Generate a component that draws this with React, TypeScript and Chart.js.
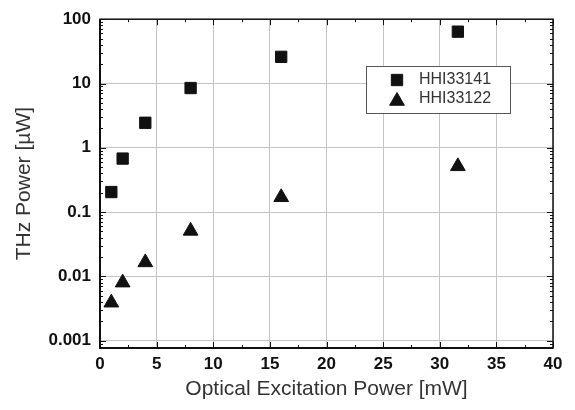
import React, { useEffect, useRef } from "react";
import { Chart, registerables } from "chart.js";
import { drawPoint } from "chart.js/helpers";

Chart.register(...registerables);

// ---- data ----
const EXCITATION_MW = [1, 2, 4, 8, 16, 31.6];
const HHI33141_UW = [0.205, 0.68, 2.45, 8.5, 26, 64];
const HHI33122_UW = [0.0039, 0.008, 0.0165, 0.051, 0.17, 0.515];
const SERIES_LABELS = ["HHI33141", "HHI33122"];
const Y_TICKS = [0.001, 0.01, 0.1, 1, 10, 100];
const Y_TICK_LABELS = ["0.001", "0.01", "0.1", "1", "10", "100"];
const X_TICK_STEP = 5;
const X_MINOR_STEP = 2.5;
const X_MIN = 0;
const X_MAX = 40;
const Y_MIN = 0.00077;
const Y_MAX = 100;
const X_TITLE = "Optical Excitation Power [mW]";
const Y_TITLE = "THz Power [\u00B5W]";

const FONT = "'Liberation Sans', Arial, Helvetica, sans-serif";
const INK = "#111111";

const framePlugin = {
  id: "frameTicks",
  afterDatasetsDraw(chart: any) {
    const { ctx, chartArea } = chart;
    const { left, right, top, bottom } = chartArea;
    const xs = chart.scales.x;
    const ys = chart.scales.y;
    ctx.save();
    ctx.strokeStyle = INK;
    // minor/major ticks, inward on all four sides
    ctx.lineWidth = 1;
    ctx.beginPath();
    for (let v = X_MIN; v <= X_MAX + 1e-9; v += X_MINOR_STEP) {
      const px = Math.round(xs.getPixelForValue(v)) + 0.5;
      const major = Math.abs(v / X_TICK_STEP - Math.round(v / X_TICK_STEP)) < 1e-9;
      const len = major ? 6 : 3;
      ctx.moveTo(px, bottom);
      ctx.lineTo(px, bottom - len);
      ctx.moveTo(px, top);
      ctx.lineTo(px, top + len);
    }
    for (let e = -4; e <= 2; e++) {
      for (let k = 1; k <= 9; k++) {
        const v = k * Math.pow(10, e);
        if (v < Y_MIN * 0.999 || v > Y_MAX * 1.001) continue;
        const py = Math.round(ys.getPixelForValue(v)) + 0.5;
        const len = k === 1 ? 6 : 3;
        ctx.moveTo(left, py);
        ctx.lineTo(left + len, py);
        ctx.moveTo(right, py);
        ctx.lineTo(right - len, py);
      }
    }
    ctx.stroke();
    // frame
    ctx.lineWidth = 1.5;
    ctx.strokeRect(left, top, right - left, bottom - top);
    ctx.lineWidth = 2;
    ctx.beginPath();
    ctx.moveTo(left, top);
    ctx.lineTo(left, bottom);
    ctx.lineTo(right, bottom);
    ctx.stroke();
    ctx.restore();
  },
  afterDraw(chart: any) {
    const { ctx } = chart;
    // legend box inside the plot
    const bx = 366, by = 66, bw = 144, bh = 47;
    ctx.save();
    ctx.fillStyle = "#ffffff";
    ctx.fillRect(bx, by, bw, bh);
    ctx.strokeStyle = "#555555";
    ctx.lineWidth = 1;
    ctx.strokeRect(bx + 0.5, by + 0.5, bw, bh);
    const rows = [80, 99];
    chart.data.datasets.forEach((ds: any, i: number) => {
      ctx.fillStyle = INK;
      ctx.strokeStyle = INK;
      drawPoint(ctx, { pointStyle: ds.pointStyle, radius: ds.pointStyle === "triangle" ? 8.5 : 8, borderWidth: 1, rotation: 0 }, 397, rows[i] + (ds.pointStyle === "triangle" ? 2 : 0));
      ctx.fillStyle = "#333333";
      ctx.font = `16px ${FONT}`;
      ctx.textBaseline = "middle";
      ctx.textAlign = "left";
      ctx.fillText(ds.label, 419, rows[i]);
    });
    ctx.restore();
  },
};

export default function App() {
  const ref = useRef<HTMLCanvasElement | null>(null);

  useEffect(() => {
    if (!ref.current) return;
    const chart = new Chart(ref.current, {
      type: "scatter",
      data: {
        datasets: [
          {
            label: SERIES_LABELS[0],
            data: EXCITATION_MW.map((x, i) => ({ x, y: HHI33141_UW[i] })),
            pointStyle: "rect",
            pointRadius: 8,
            pointHoverRadius: 8,
            backgroundColor: INK,
            borderColor: INK,
            borderWidth: 1,
            showLine: false,
          },
          {
            label: SERIES_LABELS[1],
            data: EXCITATION_MW.map((x, i) => ({ x, y: HHI33122_UW[i] })),
            pointStyle: "triangle",
            pointRadius: 8.5,
            pointHoverRadius: 8.5,
            backgroundColor: INK,
            borderColor: INK,
            borderWidth: 1,
            showLine: false,
          },
        ],
      },
      options: {
        responsive: false,
        animation: false,
        events: [],
        layout: { padding: { top: 16, right: 22, bottom: 0, left: 0 } },
        plugins: {
          legend: { display: false },
          tooltip: { enabled: false },
        },
        scales: {
          x: {
            type: "linear",
            min: X_MIN,
            max: X_MAX,
            afterFit: (s: any) => {
              s.height = 62;
            },
            ticks: {
              stepSize: X_TICK_STEP,
              padding: 6,
              color: INK,
              font: { family: FONT, size: 17, weight: "bold" },
            },
            grid: { color: "#c4c4c4", lineWidth: 1, drawTicks: false },
            border: { display: false },
            title: {
              display: true,
              text: X_TITLE,
              color: "#333333",
              font: { family: FONT, size: 21, lineHeight: 1.2 },
              padding: { top: 0, bottom: 8 },
            },
          },
          y: {
            type: "logarithmic",
            min: Y_MIN,
            max: Y_MAX,
            afterFit: (s: any) => {
              s.width = 100;
            },
            afterBuildTicks: (s: any) => {
              s.ticks = Y_TICKS.map((v) => ({ value: v, major: true }));
            },
            ticks: {
              padding: 9,
              color: INK,
              font: { family: FONT, size: 17, weight: "bold" },
              callback: (_v: any, i: number) => Y_TICK_LABELS[i],
            },
            grid: { color: "#c4c4c4", lineWidth: 1, drawTicks: false },
            border: { display: false },
            title: {
              display: true,
              text: Y_TITLE,
              color: "#333333",
              font: { family: FONT, size: 21, lineHeight: 1.2 },
              padding: { top: 12, bottom: 0 },
            },
          },
        },
      },
      plugins: [framePlugin],
    } as any);
    return () => chart.destroy();
  }, []);

  return (
    <div style={{ position: "fixed", left: 0, top: 0, width: 575, height: 410, background: "#fff" }}>
      <canvas ref={ref} width={575} height={410} style={{ display: "block", width: 575, height: 410 }} />
    </div>
  );
}
